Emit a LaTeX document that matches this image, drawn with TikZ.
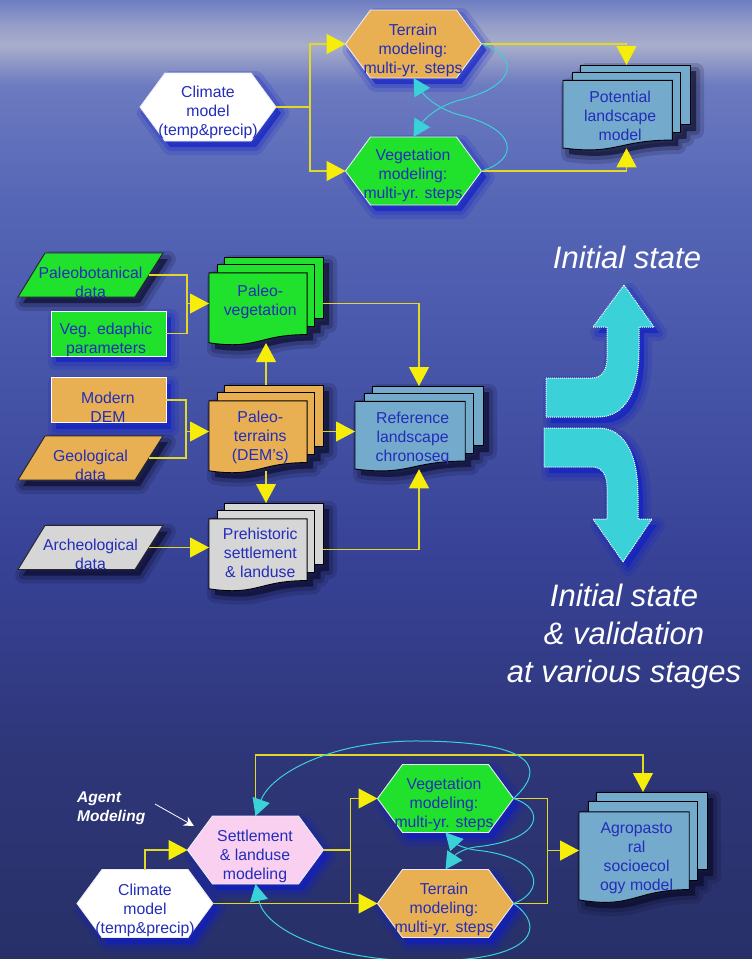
\documentclass[tikz,border=0pt]{standalone}
\usepackage{fontspec}
\setmainfont{Liberation Sans}
\usetikzlibrary{arrows.meta}

\definecolor{txtblue}{RGB}{35,45,185}
\definecolor{orng}{RGB}{232,176,82}
\definecolor{grn}{RGB}{32,226,44}
\definecolor{steel}{RGB}{116,170,204}
\definecolor{gry}{RGB}{214,214,214}
\definecolor{pnk}{RGB}{250,208,240}
\definecolor{yel}{RGB}{246,238,10}
\definecolor{ylin}{RGB}{226,216,40}
\definecolor{cyn}{RGB}{58,210,216}
\definecolor{glow}{RGB}{14,28,200}
\definecolor{dsh}{RGB}{8,8,36}
\definecolor{hexedge}{RGB}{235,235,245}
\definecolor{bga}{RGB}{108,124,194}
\definecolor{bgb}{RGB}{150,158,200}
\definecolor{bgc}{RGB}{168,174,202}
\definecolor{bgd}{RGB}{108,122,192}
\definecolor{bge}{RGB}{86,102,182}
\definecolor{bgf}{RGB}{70,84,168}
\definecolor{bgg}{RGB}{55,66,150}
\definecolor{bgh}{RGB}{46,54,120}
\definecolor{bgi}{RGB}{40,48,104}

\tikzset{
  txt/.style={font=\fontsize{15.8}{19}\selectfont, text=txtblue, align=center, inner sep=0pt},
  anchorbox/.style={inner sep=0pt, outer sep=0pt},
  yplain/.style={draw=ylin, line width=1.1pt},
  yline/.style={yplain, -{Triangle[length=19pt,width=20pt,color=yel]}},
  cline/.style={draw=cyn, line width=1pt, -{Triangle[length=17pt,width=18pt]}},
  glowsh/.style={
    preaction={draw=#1, draw opacity=0.16, line width=16pt, line join=round},
    preaction={draw=#1, draw opacity=0.22, line width=8pt, line join=round},
    preaction={fill=#1, fill opacity=0.6}},
  whitetxt/.style={text=white, inner sep=0pt, align=center},
}

% hexagon: name, cx, cy, fill, tx, ty, text
\newcommand\hexat[7]{%
  \begin{scope}[shift={(5pt,-6pt)}]
  \path[glowsh=glow] ({#2-68},#3) -- ({#2-43},{#3-34}) -- ({#2+43},{#3-34}) -- ({#2+68},#3) -- ({#2+43},{#3+34}) -- ({#2-43},{#3+34}) -- cycle;
  \end{scope}
  \filldraw[fill=#4, draw=hexedge, line width=0.9pt] ({#2-68},#3) -- ({#2-43},{#3-34}) -- ({#2+43},{#3-34}) -- ({#2+68},#3) -- ({#2+43},{#3+34}) -- ({#2-43},{#3+34}) -- cycle;
  \node[anchorbox, minimum width=136pt, minimum height=68pt] (#1) at (#2,#3) {};
  \node[txt] (#1-t) at (#5,#6) {#7};
}

% multidocument: name, x0, y0, W, H, fill, text y fraction, text
\newcommand\mdoc[8]{%
  \begin{scope}[shift={(#2,#3)}, x=#4pt, y=-#5pt]
    \begin{scope}[shift={(6pt,-6pt)}]
    \path[glowsh=dsh] (0.1376,0) -- (1,0) -- (1,0.666) -- (0.926,0.67) -- (0.926,0.752) -- (0.861,0.757) -- (0.861,0.834) .. controls (0.43,0.834) and (0.43,1.0) .. (0,0.9225) -- (0,0.17) -- (0.0709,0.17) -- (0.0709,0.084) -- (0.1376,0.084) -- cycle;
    \end{scope}
    \filldraw[fill=#6, draw=black, line width=0.9pt] (0.1376,0) rectangle (1,0.666);
    \filldraw[fill=#6, draw=black, line width=0.9pt] (0.0709,0.084) rectangle (0.926,0.752);
    \filldraw[fill=#6, draw=black, line width=0.9pt] (0,0.17) -- (0.861,0.17) -- (0.861,0.834) .. controls (0.43,0.834) and (0.43,1.0) .. (0,0.9225) -- cycle;
    \node[anchorbox, minimum width=#4pt, minimum height=#5pt] (#1) at (0.5,0.5) {};
    \coordinate (#1-b) at (0.5,0.925);
    \node[txt] (#1-t) at (0.45,#7) {#8};
  \end{scope}
}

% parallelogram: name, cy, fill, text y, text
\newcommand\para[5]{%
  \begin{scope}[shift={(5pt,-6pt)}]
  \path[glowsh=dsh] (18,{#2+22}) -- (45,{#2-22}) -- (163,{#2-22}) -- (135,{#2+22}) -- cycle;
  \end{scope}
  \filldraw[fill=#3, draw=black!85, line width=0.9pt] (18,{#2+22}) -- (45,{#2-22}) -- (163,{#2-22}) -- (135,{#2+22}) -- cycle;
  \node[anchorbox, minimum width=117pt, minimum height=44pt] (#1) at (90.5,#2) {};
  \node[txt] (#1-t) at (90.5,#4) {#5};
}

% rectangle: name, cx, cy, fill, text x, text y, text
\newcommand\rbox[7]{%
  \begin{scope}[shift={(5pt,-6pt)}]
  \path[glowsh=glow] ({#2-57.5},{#3-22.5}) rectangle ({#2+57.5},{#3+22.5});
  \end{scope}
  \node[anchorbox, fill=#4, draw=white, line width=1pt, minimum width=115pt, minimum height=45pt] (#1) at (#2,#3) {};
  \node[txt] (#1-t) at (#5,#6) {#7};
}

\begin{document}
\begin{tikzpicture}[x=1pt,y=-1pt]
\useasboundingbox (0,0) rectangle (752,959);
% background
\shade[top color=bga, bottom color=bgb] (0,-1) rectangle (752,25.5);
\shade[top color=bgb, bottom color=bgc] (0,25) rectangle (752,45.5);
\shade[top color=bgc, bottom color=bgd] (0,45) rectangle (752,85.5);
\shade[top color=bgd, bottom color=bge] (0,85) rectangle (752,200.5);
\shade[top color=bge, bottom color=bgf] (0,200) rectangle (752,380.5);
\shade[top color=bgf, bottom color=bgg] (0,380) rectangle (752,560.5);
\shade[top color=bgg, bottom color=bgh] (0,560) rectangle (752,760.5);
\shade[top color=bgh, bottom color=bgi] (0,760) rectangle (752,960);

% ---------- top section ----------
\hexat{clim1}{208}{107}{white}{208}{112.5}{Climate\\model\\(temp\&precip)}
\hexat{terr1}{413.5}{44}{orng}{413}{50.5}{Terrain\\modeling:\\multi-yr. steps}
\hexat{veg1}{413.5}{171}{grn}{413}{175.5}{Vegetation\\modeling:\\multi-yr. steps}
\mdoc{pot}{563}{65}{127}{90}{steel}{0.567}{Potential\\landscape\\model}

\path (clim1.east) ++(34,0) coordinate (j1);
\draw[yplain] (clim1.east) -- (j1);
\draw[yline] (j1) |- (terr1.west);
\draw[yline] (j1) |- (veg1.west);
\draw[yline] (terr1.east) -| (pot.north);
\draw[yline] (veg1.east) -| (pot-b);
\draw[cline] (terr1.east) .. controls (518,55) and (520,85) .. (460,100) .. controls (440,105) and (425,118) .. (veg1.north);
\draw[cline] (veg1.east) .. controls (518,160) and (520,130) .. (460,115) .. controls (440,110) and (425,97) .. (terr1.south);

% ---------- middle section ----------
\para{pbot}{275}{grn}{282.5}{Paleobotanical\\data}
\rbox{vege}{108.5}{333.5}{grn}{106}{340}{Veg. edaphic\\parameters}
\rbox{dem}{108.5}{400}{orng}{108}{407}{Modern\\DEM}
\para{geo}{458}{orng}{465}{Geological\\data}
\para{arch}{547.5}{gry}{554}{Archeological\\data}

\mdoc{pveg}{209}{257}{114}{93}{grn}{0.478}{Paleo-\\vegetation}
\mdoc{pter}{209}{385}{114}{93}{orng}{0.565}{Paleo-\\terrains\\(DEM’s)}
\mdoc{preh}{209}{503}{114}{93}{gry}{0.538}{Prehistoric\\settlement\\\& landuse}
\mdoc{ref}{355}{386}{128}{90}{steel}{0.583}{Reference\\landscape\\chronoseq}

\path (pveg.west) ++(-22,0) coordinate (j2);
\draw[yplain] (pbot.east) -| (j2);
\draw[yplain] (vege.east) -| (j2);
\draw[yline] (j2) -- (pveg.west);
\path (pter.west) ++(-23,0) coordinate (j3);
\draw[yplain] (dem.east) -| (j3);
\draw[yplain] (geo.east) -| (j3);
\draw[yline] (j3) -- (pter.west);
\draw[yline] (pter.north) -- (pveg-b);
\draw[yline] (pter-b) -- (preh.north);
\draw[yline] (pter.east) -- (pter.east -| ref.west);
\draw[yline] (pveg.east) -| (ref.north);
\draw[yline] (preh.east) -| (ref-b);
\draw[yline] (arch.east) -- (arch.east -| preh.west);

% ---------- big cyan arrows ----------
\begin{scope}[shift={(5pt,-6pt)}]
\path[glowsh=glow] (546,378) -- (592,378) .. controls (602,378) and (607,370) .. (607,358) -- (607,327) -- (593,327) -- (624,285) -- (654,327) -- (639,327) -- (639,350) .. controls (639,392) and (625,417) .. (598,417) -- (546,417) -- cycle;
\path[glowsh=glow] (544,428) -- (598,428) .. controls (625,428) and (638,455) .. (638,495) -- (638,519) -- (652,519) -- (623,562) -- (593,519) -- (607,519) -- (607,487) .. controls (607,475) and (602,467) .. (592,467) -- (544,467) -- cycle;
\end{scope}
\filldraw[fill=cyn, draw=white, densely dotted, line width=1pt] (546,378) -- (592,378) .. controls (602,378) and (607,370) .. (607,358) -- (607,327) -- (593,327) -- (624,285) -- (654,327) -- (639,327) -- (639,350) .. controls (639,392) and (625,417) .. (598,417) -- (546,417) -- cycle;
\filldraw[fill=cyn, draw=white, densely dotted, line width=1pt] (544,428) -- (598,428) .. controls (625,428) and (638,455) .. (638,495) -- (638,519) -- (652,519) -- (623,562) -- (593,519) -- (607,519) -- (607,487) .. controls (607,475) and (602,467) .. (592,467) -- (544,467) -- cycle;

\node[whitetxt, font=\fontsize{31}{38}\selectfont\itshape] (init1) at (627,257) {Initial state};
\node[whitetxt, font=\fontsize{31}{38}\selectfont\itshape] (init2) at (624,636) {Initial state\\\& validation\\at various stages};

% ---------- bottom section ----------
\hexat{sett}{255.5}{850}{pnk}{255}{856.5}{Settlement\\\& landuse\\modeling}
\hexat{clim2}{145}{903.5}{white}{145}{910.5}{Climate\\model\\(temp\&precip)}
\hexat{veg2}{445.5}{798.5}{grn}{444}{804}{Vegetation\\modeling:\\multi-yr. steps}
\hexat{ter2}{445.5}{903.5}{orng}{444}{909}{Terrain\\modeling:\\multi-yr. steps}
\mdoc{agro}{579}{792}{128}{117}{steel}{0.568}{Agropasto\\ral\\socioecol\\ogy model}

\node[whitetxt, align=left, anchor=west, font=\fontsize{15.5}{19}\selectfont\bfseries\itshape] (agent) at (77,808) {Agent\\Modeling};
\coordinate (agtail) at (155,804);
\coordinate (agtip) at (194,826);
\draw[white, line width=0.8pt, -{Stealth[length=10pt,width=10pt]}] (agtail) -- (agtip);

\draw[yline] (clim2.north) |- (sett.west);
\path (sett.east) ++(27,0) coordinate (j4);
\draw[yplain] (sett.east) -- (j4);
\draw[yline] (j4) |- (veg2.west);
\draw[yplain] (j4) -- (j4 |- ter2.west);
\draw[yline] (clim2.east) -- (ter2.west);
\path (veg2.east) ++(34,0) coordinate (j5);
\draw[yplain] (veg2.east) -- (j5) |- (ter2.east);
\draw[yline] (j5 |- agro.west) -- (agro.west);
\draw[yline] (sett.north) -- ++(0,-61) -| (agro.north);

\draw[cline] (veg2.east) .. controls (545,770) and (540,742) .. (420,741) .. controls (330,740) and (270,775) .. (sett.north);
\draw[cline] (ter2.east) .. controls (545,925) and (540,962) .. (420,961) .. controls (330,960) and (265,930) .. (sett.south);
\draw[cline] (veg2.east) .. controls (545,808) and (545,840) .. (475,847) .. controls (462,849) and (455,855) .. (ter2.north);
\draw[cline] (ter2.east) .. controls (545,892) and (545,857) .. (475,850) .. controls (462,848) and (455,843) .. (veg2.south);
\end{tikzpicture}
\end{document}
